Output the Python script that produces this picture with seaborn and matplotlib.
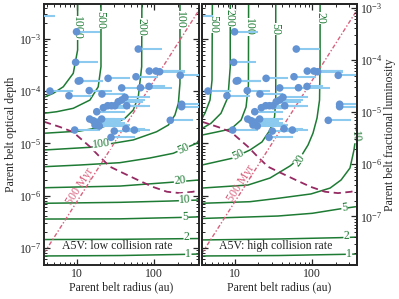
import numpy as np
import pandas as pd
import matplotlib
matplotlib.use("Agg")
import matplotlib.pyplot as plt
import seaborn as sns
from matplotlib.ticker import LogLocator, FuncFormatter, NullFormatter, LogFormatterSciNotation

# observed belts: radius (au), optical depth, outer end of the radius range
belt_r = [2.5, 9.78, 61.9, 9.52, 10.3, 10.8, 25.1, 57.8, 86, 105, 117, 217,
          4.42, 7.8, 14.3, 20.9, 37.7, 66.1, 85.3, 226, 226, 161,
          41.6, 37.7, 34.0, 30.8, 27.8, 24.8, 21.8, 17.9, 43.8,
          14.5, 16.1, 17.9, 17.0, 19.3, 20.7, 9.25, 30.2, 42.9, 55.0, 27.4]
belt_tau = [2.8e-3, 1.38e-3, 6.45e-4, 3.59e-4, 1.57e-4, 1.6e-4, 1.77e-4, 1.9e-4, 2.44e-4, 2.44e-4, 2.37e-4, 2.02e-4,
            1.01e-4, 8.22e-5, 1.03e-4, 8.87e-5, 1.16e-4, 1.17e-4, 1.24e-4, 5.64e-5, 5.07e-5, 2.78e-5,
            7.67e-5, 6.81e-5, 6.31e-5, 5.29e-5, 5.29e-5, 5.29e-5, 4.85e-5, 4.06e-5, 5.29e-5,
            2.94e-5, 2.73e-5, 2.5e-5, 2.26e-5, 2.16e-5, 2.94e-5, 1.81e-5, 1.73e-5, 1.92e-5, 1.81e-5, 1.31e-5]
belt_rmax = [5.14, 19.7, 124.8, 18.7, 21.6, 21.6, 48.3, 111.6, 235, 250, 250, 600,
             8.79, 15.4, 28, 41.6, 87.9, 168, 137, 600, 600, 318,
             87.9, 75.7, 71.3, 75.7, 65.1, 56, 48.3, 41.6, 87.9,
             30.8, 37, 41.6, 48.3, 41.6, 41.6, 19.7, 65, 75.7, 87.9, 56]

# detection limit (dashed) and 500 Myr line (dash-dot)
limit_r = [3.7, 5.97, 8.8, 14.6, 19.7, 26.6, 39.2, 65.1, 96.1, 146, 215, 318, 380]
limit_tau = [2.61e-5, 2.07e-5, 1.66e-5, 8.67e-6, 5.5e-6, 3.59e-6, 2.72e-6, 1.91e-6, 1.47e-6, 1.19e-6, 1.12e-6, 1.19e-6, 1.28e-6]
age_r = [3.7, 380]
age_tau = [7.9e-8, 3.6e-3]

# contours, low collision rate
low_1_r, low_1_tau = [3.7, 36, 265, 380], [7.0e-8, 7.14e-8, 7.53e-8, 7.63e-8]
low_2_r, low_2_tau = [3.7, 36, 380], [1.445e-7, 1.46e-7, 1.51e-7]
low_5_r, low_5_tau = [3.7, 36, 250, 380], [3.57e-7, 3.6e-7, 3.85e-7, 3.93e-7]
low_10_r, low_10_tau = [3.7, 36, 160, 380], [7.15e-7, 7.46e-7, 7.9e-7, 8.26e-7]
low_20_r, low_20_tau = [3.7, 36, 160, 380], [1.42e-6, 1.53e-6, 1.8e-6, 2.0e-6]
low_50_r = [3.7, 10.8, 35.8, 87.8, 176, 235, 355, 380, 450]
low_50_tau = [3.59e-6, 3.87e-6, 4.29e-6, 5.28e-6, 6.49e-6, 7.84e-6, 1.01e-5, 1.17e-5, 2.8e-5]
low_100_r = [3.7, 14.6, 29.3, 53.3, 107, 152, 185, 205, 215, 215]
low_100_tau = [7.5e-6, 8.45e-6, 1.01e-5, 1.17e-5, 1.68e-5, 2.26e-5, 3.52e-5, 5.89e-5, 1.42e-4, 1e-2]
low_200_r = [3.7, 10.8, 21.8, 37.7, 41.6, 53.3, 61.9, 68.5, 69]
low_200_tau = [1.57e-5, 1.73e-5, 2.09e-5, 2.82e-5, 3.04e-5, 4.38e-5, 7.87e-5, 2.96e-4, 1e-2]
low_500_r = [3.7, 5.4, 8.87, 14.6, 18.7, 20.3, 20.3]
low_500_tau = [3.79e-5, 4.06e-5, 4.72e-5, 6.8e-5, 1.22e-4, 2.96e-4, 1e-2]
low_1000_r = [3.7, 4.88, 6.58, 8.87, 10.1, 10.1]
low_1000_tau = [7.67e-5, 9.15e-5, 1.22e-4, 2.21e-4, 6.18e-4, 1e-2]

# contours, high collision rate
high_1_r, high_1_tau = [3.7, 36, 263, 380], [7.0e-8, 7.14e-8, 7.53e-8, 7.63e-8]
high_2_r, high_2_tau = [3.7, 36, 226, 380], [1.42e-7, 1.48e-7, 1.57e-7, 1.61e-7]
high_5_r, high_5_tau = [3.7, 35.8, 100, 222, 366], [3.66e-7, 4.08e-7, 4.6e-7, 5.55e-7, 6.15e-7]
high_10_r = [3.7, 15.5, 35.8, 96, 170, 236, 308, 347, 369, 386, 390]
high_10_tau = [7.15e-7, 7.67e-7, 8.9e-7, 1.08e-6, 1.4e-6, 2.0e-6, 3.39e-6, 7.5e-6, 1.46e-5, 4.4e-5, 1e-2]
high_20_r = [3.7, 14.6, 28.2, 51.3, 69.2, 87.9, 102, 115, 124, 126, 126]
high_20_tau = [1.4e-6, 1.6e-6, 2.18e-6, 3.71e-6, 5.27e-6, 9.35e-6, 1.58e-5, 3.07e-5, 6.8e-5, 3.97e-4, 1e-2]
high_50_r = [3.7, 9.06, 15.5, 22.2, 28.2, 32.3, 33.5, 33.5]
high_50_tau = [3.87e-6, 5.2e-6, 7.5e-6, 1.07e-5, 1.81e-5, 3.21e-5, 6.8e-5, 1e-2]
high_100_r = [3.7, 5.97, 8.8, 11.9, 13.8, 14.8, 14.9]
high_100_tau = [1.45e-5, 1.68e-5, 1.9e-5, 2.82e-5, 5.0e-5, 1.32e-4, 1e-2]
high_200_r = [3.7, 4.84, 6.52, 8.04, 8.6, 8.6]
high_200_tau = [1.94e-5, 2.44e-5, 3.79e-5, 7.76e-5, 2.92e-4, 1e-2]
high_500_r = [3.7, 4.05, 4.7, 4.99, 5.05]
high_500_tau = [3.01e-5, 3.84e-5, 6.8e-5, 1.64e-4, 1e-2]

sns.set_theme(style="ticks")
plt.rcParams['font.family'] = ['Liberation Serif', 'DejaVu Serif']
plt.rcParams['mathtext.fontset'] = 'stix'
plt.rcParams['font.size'] = 8.5
plt.rcParams['axes.linewidth'] = 1.4

fs = 8.5
green = '#1e7b34'
ptcol = '#6393d3'
barcol = '#8ccbef'
xlim = (3.7, 380)
ylim = (4.7e-8, 4.7e-3)

belts = pd.DataFrame({'r': belt_r, 'tau': belt_tau, 'rmax': belt_rmax})

fig = plt.figure(figsize=(3.99, 2.99), dpi=100)
axL = fig.add_axes([0.1103, 0.1137, 0.3885, 0.8729])
axR = fig.add_axes([0.5063, 0.1137, 0.3885, 0.8729])


def style(ax, leftlab, right=True):
    ax.set_xscale('log')
    ax.set_yscale('log')
    ax.set_xlim(*xlim)
    ax.set_ylim(*ylim)
    ax.xaxis.set_major_formatter(FuncFormatter(lambda v, p: '%g' % v))
    ax.xaxis.set_minor_formatter(NullFormatter())
    ax.yaxis.set_major_locator(LogLocator(base=10, numticks=20))
    ax.yaxis.set_minor_locator(LogLocator(base=10, subs=np.arange(2, 10), numticks=20))
    ax.yaxis.set_major_formatter(LogFormatterSciNotation())
    ax.tick_params(which='both', direction='in', top=True, right=right, labelleft=leftlab,
                   labelsize=fs, pad=2)
    ax.tick_params(which='major', length=4, width=0.9)
    ax.tick_params(which='minor', length=2, width=0.7)
    ax.set_xlabel('Parent belt radius (au)', fontsize=fs, labelpad=1)


def panel(ax, lines, labels, note):
    for r, t in lines:
        ax.plot(r, t, color=green, lw=1.1, zorder=2)
    for txt, r, t, rot in labels:
        ax.text(r, t, txt, color=green, rotation=rot, ha='center', va='center', fontsize=fs,
                zorder=3, rotation_mode='anchor',
                bbox=dict(fc='white', ec='none', pad=0.2))
    ax.plot(limit_r, limit_tau, ls=(0, (4, 2.5)), color='#962a62', lw=1.3, zorder=2)
    ax.plot(age_r, age_tau, ls=(0, (3, 1.5, 1, 1.5)), color='#d9607d', lw=1.0, zorder=2)
    ax.hlines(belts['tau'], belts['r'], belts['rmax'], color=barcol, lw=1.5, zorder=4)
    sns.scatterplot(data=belts, x='r', y='tau', ax=ax, color=ptcol, s=30, edgecolor='none',
                    zorder=5, legend=False)
    ax.text(0.475, 0.074, note, transform=ax.transAxes, ha='center', va='center', fontsize=fs)


panel(axL,
      [(low_1_r, low_1_tau), (low_2_r, low_2_tau), (low_5_r, low_5_tau), (low_10_r, low_10_tau),
       (low_20_r, low_20_tau), (low_50_r, low_50_tau), (low_100_r, low_100_tau),
       (low_200_r, low_200_tau), (low_500_r, low_500_tau), (low_1000_r, low_1000_tau)],
      [('1000', 10.0, 1.63e-3, -90), ('500', 19.9, 2.32e-3, -90), ('200', 68.5, 1.7e-3, -90),
       ('100', 215, 2.32e-3, -90), ('100', 20.7, 9.8e-6, 8), ('50', 235, 8.1e-6, 25),
       ('20', 215, 1.94e-6, 5), ('10', 250, 8.5e-7, 3), ('5', 250, 3.95e-7, 2),
       ('2', 263, 1.6e-7, 1), ('1', 276, 7.6e-8, 1)],
      'A5V: low collision rate')
axL.text(10.8, 1.5e-6, '500 Myr', color='#d9607d', rotation=57.5, ha='center', va='center',
         fontsize=fs, rotation_mode='anchor')

panel(axR,
      [(high_1_r, high_1_tau), (high_2_r, high_2_tau), (high_5_r, high_5_tau),
       (high_10_r, high_10_tau), (high_20_r, high_20_tau), (high_50_r, high_50_tau),
       (high_100_r, high_100_tau), (high_200_r, high_200_tau), (high_500_r, high_500_tau)],
      [('500', 5.1, 1.95e-3, -90), ('200', 8.5, 2.54e-3, -90), ('100', 14.85, 1.7e-3, -90),
       ('50', 33.5, 1.56e-3, -90), ('20', 126, 2.54e-3, -90), ('50', 10.8, 6.0e-6, 27),
       ('20', 69, 4.8e-6, 55), ('10', 358, 1.33e-5, -85), ('5', 261, 5.98e-7, 8),
       ('2', 278, 1.73e-7, 2), ('1', 299, 7.8e-8, 1)],
      'A5V: high collision rate')
axR.text(12, 1.75e-6, '500 Myr', color='#d9607d', rotation=57.5, ha='center', va='center',
         fontsize=fs, rotation_mode='anchor')

style(axL, True)
axL.set_ylabel('Parent belt optical depth', fontsize=fs, labelpad=1)
style(axR, False, right=False)
axR.set_ylabel('')

# right-hand scale: fractional luminosity = optical depth / 4
ax2 = axR.twinx()
ax2.set_yscale('log')
ax2.set_ylim(ylim[0] / 4, ylim[1] / 4)
ax2.yaxis.set_major_locator(LogLocator(base=10, numticks=20))
ax2.yaxis.set_minor_locator(LogLocator(base=10, subs=np.arange(2, 10), numticks=20))
ax2.yaxis.set_major_formatter(LogFormatterSciNotation())
ax2.tick_params(which='both', direction='in', labelsize=fs, pad=2)
ax2.tick_params(which='major', length=4, width=0.9)
ax2.tick_params(which='minor', length=2, width=0.7)
ax2.set_ylabel('Parent belt fractional luminosity', fontsize=fs, labelpad=1)

fig.savefig('out.png', dpi=100)
